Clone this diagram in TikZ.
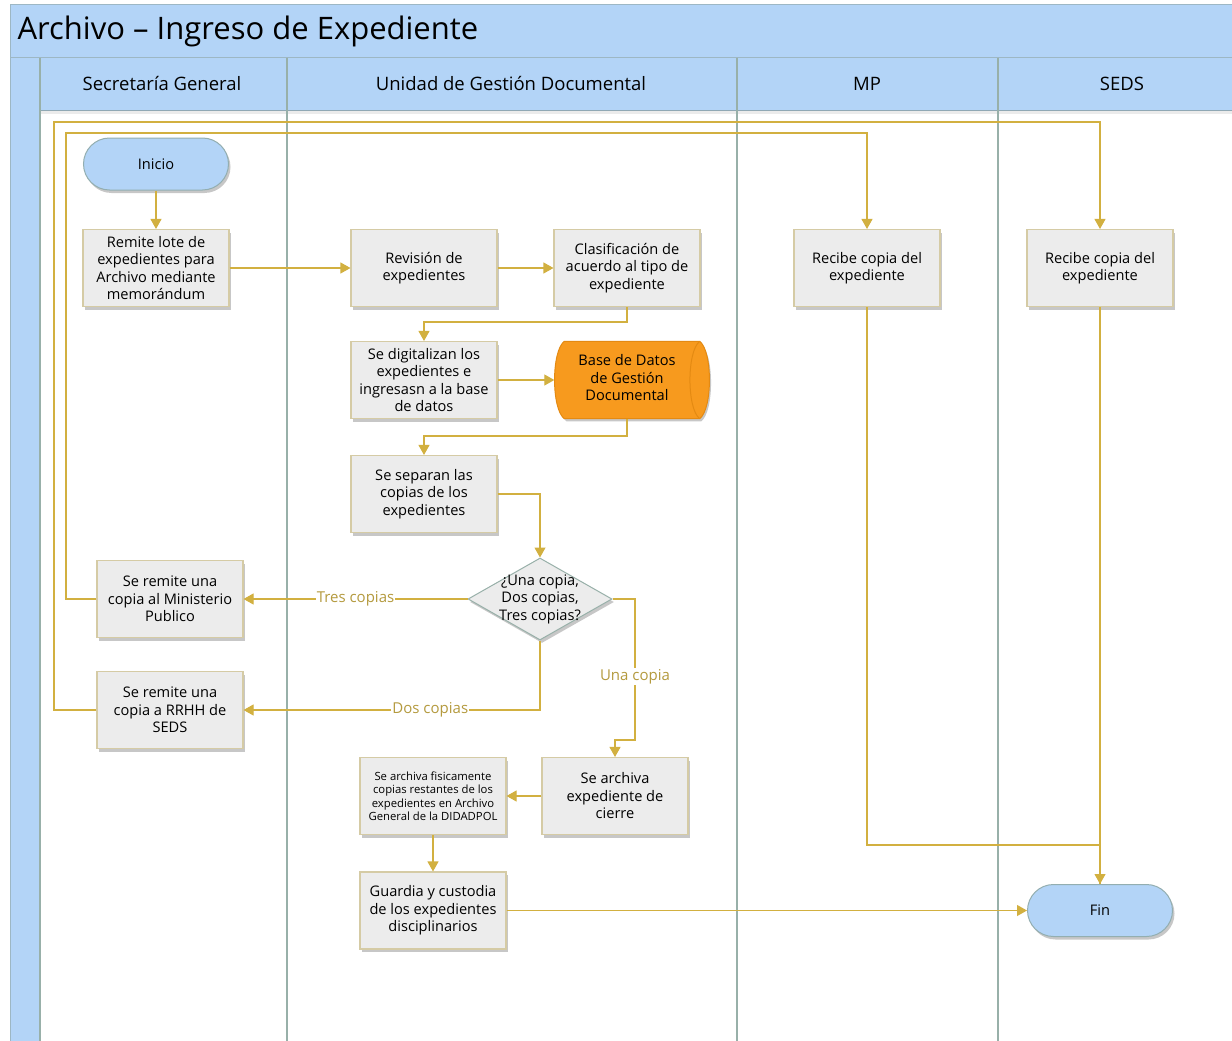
\documentclass[tikz,border=0pt]{standalone}
\usepackage{fontspec}
\setmainfont{Open Sans}
\usetikzlibrary{shapes.geometric,arrows.meta,shadows}
\definecolor{laneblue}{HTML}{B3D4F7}
\definecolor{poolline}{HTML}{9DB7C4}
\definecolor{laneline}{HTML}{98B0A9}
\definecolor{boxfill}{HTML}{ECECEC}
\definecolor{boxline}{HTML}{D5CBA5}
\definecolor{flowc}{HTML}{D2B040}
\definecolor{lblc}{HTML}{B49A3E}
\definecolor{dbfill}{HTML}{F79A1E}
\definecolor{dbline}{HTML}{E48A12}
\definecolor{termline}{HTML}{93AEB0}
\tikzset{
  shad/.style={drop shadow={opacity=0.22,shadow xshift=2pt,shadow yshift=-3pt,fill=black}},
  proc/.style={rectangle,draw=boxline,line width=1.1pt,fill=boxfill,minimum width=146,minimum height=77,
    inner sep=1pt,align=center,font=\fontsize{14.6}{17.5}\selectfont,shad},
  term/.style={rectangle,rounded corners=26,draw=termline,line width=1pt,fill=laneblue,minimum width=145,
    minimum height=52,font=\fontsize{14.6}{17}\selectfont,shad},
  decis/.style={diamond,draw=laneline,line width=1pt,fill=boxfill,minimum width=144,minimum height=82,inner sep=0pt,aspect=1.76,shad},
  flow/.style={draw=flowc,line width=1.1pt,-{Triangle[width=11pt,length=10pt]}},
  plain/.style={draw=flowc,line width=1.1pt},
  lbltext/.style={fill=white,text=lblc,inner sep=1pt,font=\fontsize{15}{17}\selectfont},
  hdr/.style={font=\fontsize{18.5}{20}\selectfont,text=black},
}
\begin{document}
\begin{tikzpicture}[x=1pt,y=-1pt]
\useasboundingbox (0,0) rectangle (1232,1041);
\clip (0,0) rectangle (1232,1041);
% pool
\fill[white] (0,0) rectangle (1232,1041);
\draw[poolline,fill=laneblue,line width=1pt] (10,5) rectangle (1240,58);
\draw[poolline,fill=laneblue,line width=1pt] (10,58) rectangle (40,1050);
\draw[poolline,fill=laneblue,line width=1pt] (40,58) rectangle (1240,110);
\fill[black,opacity=0.08] (40,110) rectangle (1240,114);
\node[anchor=west,font=\fontsize{31}{34}\selectfont] (title) at (14,31) {Archivo – Ingreso de Expediente};
\foreach \x in {40,287,737,998}{\draw[laneline,line width=1.6pt] (\x,58) -- (\x,1050);}
\node[hdr] (h1) at (162,84) {Secretaría General};
\node[hdr] (h2) at (511,84) {Unidad de Gestión Documental};
\node[hdr] (h3) at (867,84) {MP};
\node[hdr] (h4) at (1122,84) {SEDS};
% nodes
\node[term] (ini) at (156,164) {Inicio};
\node[proc] (rem) at (156,268) {Remite lote de\\expedientes para\\Archivo mediante\\memorándum};
\node[proc] (rev) at (424,268) {Revisión de\\expedientes};
\node[proc] (cla) at (627,268) {Clasificación de\\acuerdo al tipo de\\expediente};
\node[proc] (dig) at (424,380) {Se digitalizan los\\expedientes e\\ingresasn a la base\\de datos};
\node[rectangle,minimum width=155,minimum height=77,inner sep=0pt] (db) at (632,380) {};
\fill[black,opacity=0.22] ([xshift=2,yshift=-3]db.north west) ++(10,0) -- ++(135,0)
  .. controls ++(13,10) and ++(13,-10) .. ++(0,77) -- ++(-135,0)
  .. controls ++(-13,-10) and ++(-13,10) .. ++(0,-77) -- cycle;
\filldraw[fill=dbfill,draw=dbline,line width=1pt] ([xshift=10]db.north west) -- ([xshift=-10]db.north east)
  .. controls ++(13,10) and ++(13,-10) .. ([xshift=-10]db.south east) -- ([xshift=10]db.south west)
  .. controls ++(-13,-10) and ++(-13,10) .. ([xshift=10]db.north west) -- cycle;
\draw[dbline,line width=1pt] ([xshift=-10]db.north east) .. controls ++(-13,10) and ++(-13,-10) .. ([xshift=-10]db.south east);
\node[align=center,font=\fontsize{14.6}{17.5}\selectfont] (dbt) at (627,378) {Base de Datos\\de Gestión\\Documental};
\node[proc] (sep) at (424,494) {Se separan las\\copias de los\\expedientes};
\node[decis] (dec) at (540,599) {};
\node[align=center,font=\fontsize{14.6}{17.5}\selectfont] (dect) at (540,599) {¿Una copia,\\Dos copias,\\Tres copias?};
\node[proc] (mp) at (170,599) {Se remite una\\copia al Ministerio\\Publico};
\node[proc] (rr) at (170,710) {Se remite una\\copia a RRHH de\\SEDS};
\node[proc] (arc) at (615,796) {Se archiva\\expediente de\\cierre};
\node[proc,font=\fontsize{11.3}{13.5}\selectfont] (fis) at (433,796) {Se archiva fisicamente\\copias restantes de los\\expedientes en Archivo\\General de la DIDADPOL};
\node[proc] (gua) at (433,910.5) {Guardia y custodia\\de los expedientes\\disciplinarios};
\node[proc] (rmp) at (867,268) {Recibe copia del\\expediente};
\node[proc] (rse) at (1100,268) {Recibe copia del\\expediente};
\node[term] (fin) at (1100,910.5) {Fin};
% helper coordinates
\coordinate (c1) at (627,322);
\coordinate (c2) at (627,436);
\coordinate (u1) at (635,599);
\coordinate (u2) at (635,740);
\coordinate (m1) at (66,599);
\coordinate (m2) at (66,133);
\coordinate (r1) at (54,710);
\coordinate (r2) at (54,122);
\coordinate (j1) at (867,845);
% connectors
\draw[flow] (ini) -- (rem);
\draw[flow] (rem) -- (rev);
\draw[flow] (rev) -- (cla);
\draw[flow] (cla.south) -- (c1) -| (dig.north);
\draw[flow] (dig) -- (db);
\draw[flow] (c2 |- db.south) -- (c2) -| (sep.north);
\draw[flow] (sep.east) -| (dec.north);
\draw[flow] (dec.west) -- node[lbltext]{Tres copias} (mp.east);
\draw[flow] (dec.south) |- node[lbltext,pos=0.685]{Dos copias} (rr.east);
\draw[flow] (dec.east) -- (u1) -- node[lbltext,pos=0.55]{Una copia} (u2) -| (arc.north);
\draw[flow] (arc) -- (fis);
\draw[flow] (fis) -- (gua);
\draw[flow] (gua) -- (fin);
\draw[flow] (mp.west) -- (m1) -- (m2) -| (rmp.north);
\draw[flow] (rr.west) -- (r1) -- (r2) -| (rse.north);
\draw[plain] (rmp.south) -- (j1) -| (fin.north);
\draw[flow] (rse.south) -- (fin.north);
\end{tikzpicture}
\end{document}
